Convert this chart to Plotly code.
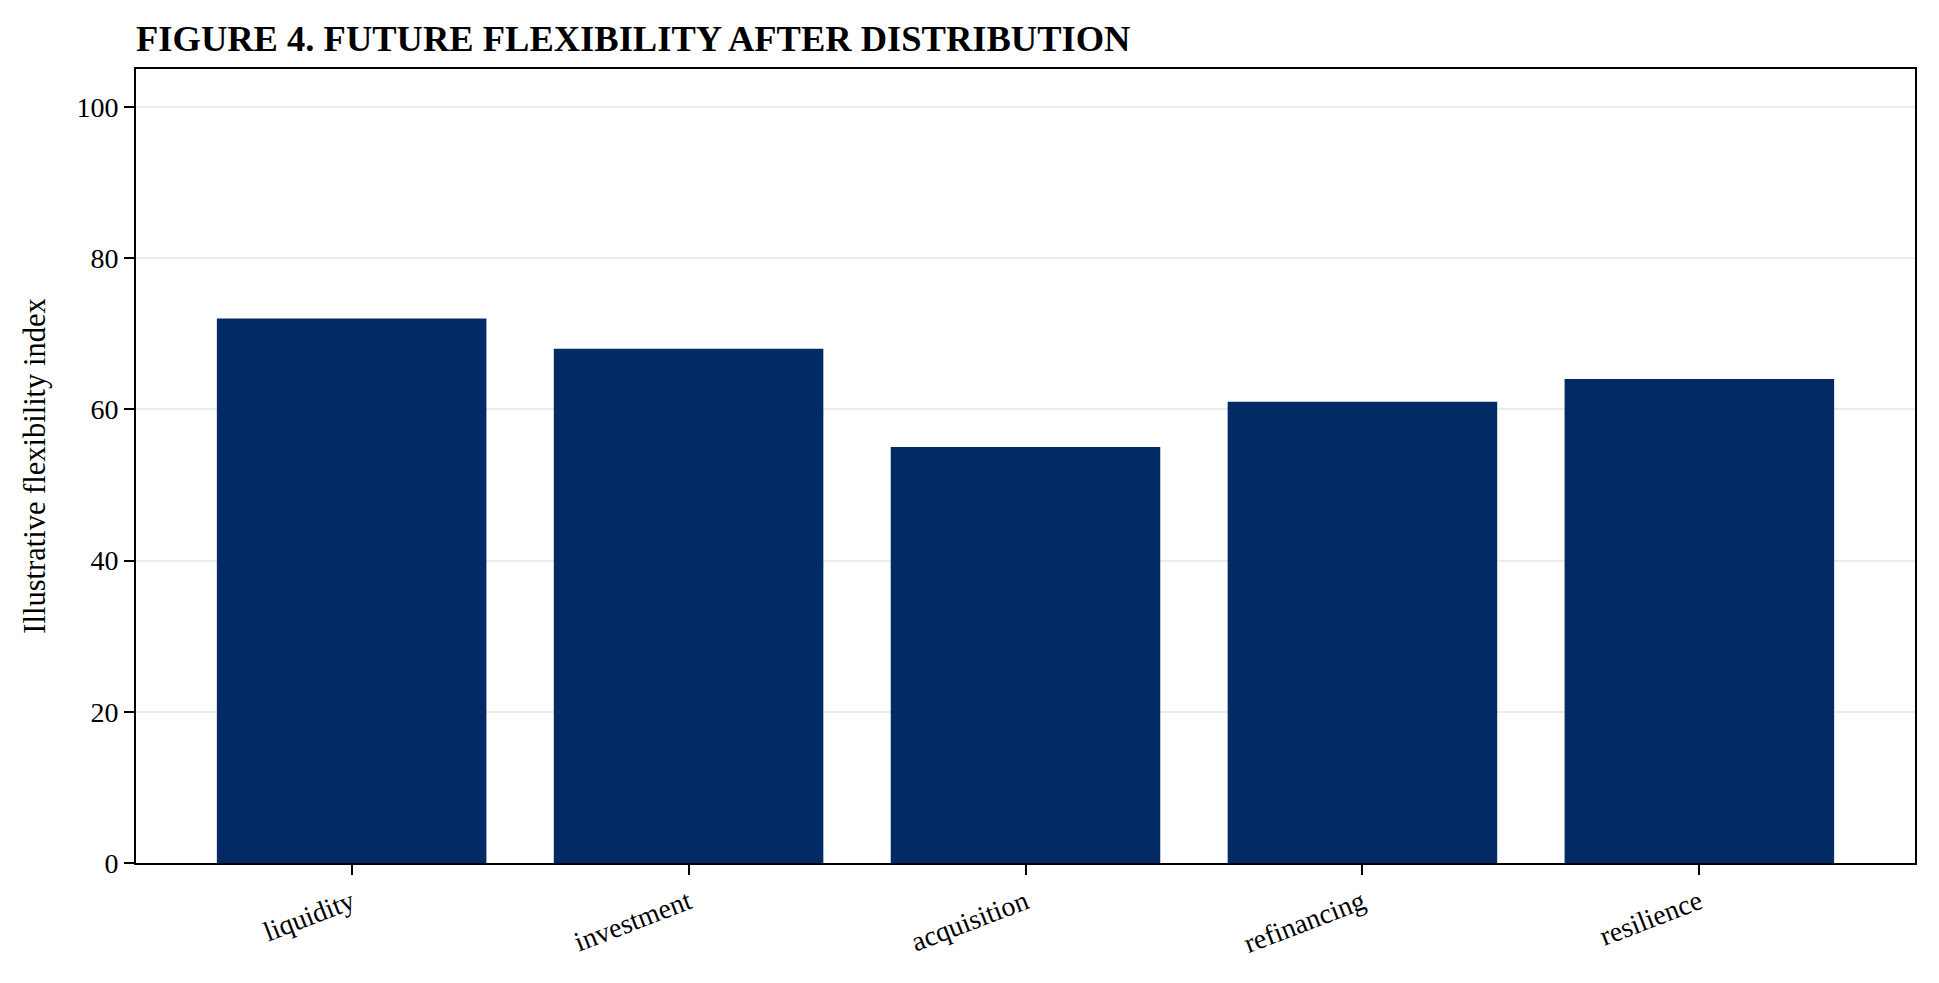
import plotly.graph_objects as go

categories = ["liquidity", "investment", "acquisition", "refinancing", "resilience"]
values = [72, 68, 55, 61, 64]
y_ticks = [0, 20, 40, 60, 80, 100]

BAR = "#022B65"
FONT = "Liberation Serif, Times New Roman, serif"

fig = go.Figure(go.Bar(x=list(range(len(categories))), y=values,
                       marker=dict(color=BAR, line=dict(width=0)),
                       width=0.8))

fig.update_layout(
    width=1931, height=975,
    margin=dict(l=128, r=24, t=61, b=120),
    paper_bgcolor="white", plot_bgcolor="white",
    font=dict(family=FONT, color="black", size=28),
    showlegend=False,
    title=dict(text="<b>FIGURE 4. FUTURE FLEXIBILITY AFTER DISTRIBUTION</b>",
               x=0, xref="paper", xanchor="left",
               y=1 - 30/975, yref="container", yanchor="middle",
               font=dict(family=FONT, size=36.5, color="black")),
)
fig.update_xaxes(
    range=[-0.64, 4.64],
    tickmode="array", tickvals=list(range(len(categories))), ticktext=categories,
    tickangle=-21, ticks="outside", ticklen=10, tickwidth=2, tickcolor="black",
    showline=True, linecolor="black", linewidth=2, mirror=True,
    showgrid=False, zeroline=False,
    tickfont=dict(family=FONT, size=28),
)
fig.update_yaxes(
    range=[0, 105],
    tickmode="array", tickvals=y_ticks,
    ticks="outside", ticklen=10, tickwidth=2, tickcolor="black",
    showline=True, linecolor="black", linewidth=2, mirror=True,
    showgrid=True, gridcolor="rgba(170,170,170,0.22)", gridwidth=2,
    zeroline=False, layer="above traces",
    title=dict(text="Illustrative flexibility index", font=dict(family=FONT, size=30.5), standoff=22),
    tickfont=dict(family=FONT, size=28),
)

fig.write_html("out.html")
